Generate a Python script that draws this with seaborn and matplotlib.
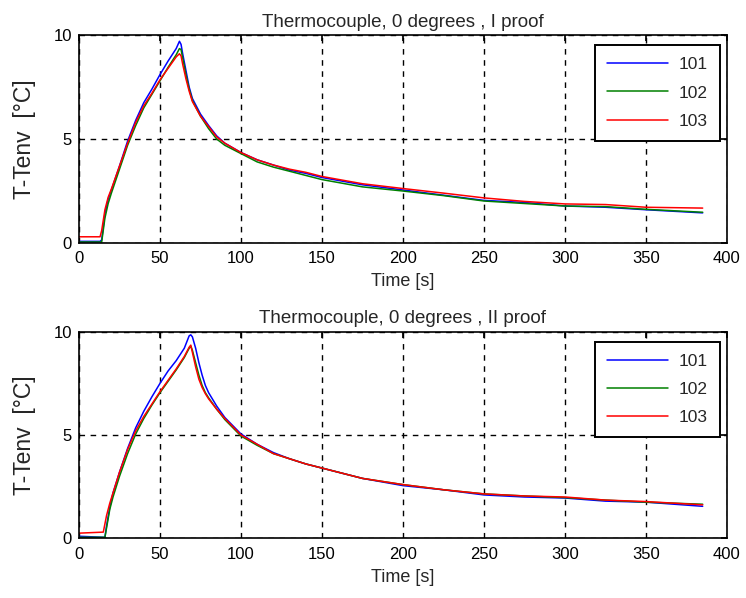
import numpy as np
import pandas as pd
import matplotlib
matplotlib.use("Agg")
import matplotlib.pyplot as plt
import seaborn as sns

# ---- data ----
labels = ["101", "102", "103"]
colors = ["#0000ff", "#008000", "#ff0000"]

t1 = [0, 13, 14, 16, 18, 20, 25, 30, 35, 40, 45, 50, 55, 60, 62, 63, 64, 66, 68, 70,
      75, 80, 85, 90, 100, 110, 120, 130, 140, 150, 175, 200, 225, 250, 275, 300, 325, 350, 385]
p1_101 = [0.08, 0.08, 0.15, 1.4, 2.1, 2.55, 3.7, 4.9, 5.9, 6.75, 7.4, 8.1, 8.75, 9.35, 9.7, 9.55, 9.1, 8.3, 7.5, 6.95,
          6.2, 5.65, 5.15, 4.8, 4.35, 4.0, 3.75, 3.5, 3.35, 3.15, 2.8, 2.55, 2.3, 2.05, 1.95, 1.78, 1.72, 1.6, 1.45]
p1_102 = [0.05, 0.05, 0.05, 1.2, 1.9, 2.4, 3.55, 4.7, 5.65, 6.5, 7.15, 7.8, 8.45, 9.05, 9.35, 9.3, 8.9, 8.1, 7.4, 6.85,
          6.1, 5.5, 5.0, 4.7, 4.3, 3.9, 3.65, 3.45, 3.25, 3.05, 2.7, 2.5, 2.28, 2.02, 1.9, 1.78, 1.75, 1.62, 1.48]
p1_103 = [0.3, 0.3, 0.6, 1.6, 2.2, 2.6, 3.7, 4.8, 5.8, 6.6, 7.2, 7.85, 8.4, 8.95, 9.1, 9.0, 8.6, 7.9, 7.3, 6.8,
          6.1, 5.6, 5.1, 4.8, 4.35, 4.0, 3.75, 3.55, 3.4, 3.2, 2.85, 2.62, 2.4, 2.17, 2.0, 1.88, 1.85, 1.72, 1.68]

t2 = [0, 15, 16, 17, 19, 21, 25, 30, 35, 40, 45, 50, 55, 60, 65, 68, 69, 70, 72, 74, 76, 78, 80,
      85, 90, 95, 100, 110, 120, 130, 140, 150, 175, 200, 225, 250, 275, 300, 325, 350, 385]
p2_101 = [0.1, 0.05, 0.05, 0.6, 1.5, 2.2, 3.2, 4.35, 5.35, 6.15, 6.85, 7.5, 8.1, 8.6, 9.2, 9.8, 9.85, 9.75, 9.2, 8.5, 7.9, 7.4, 7.05,
          6.4, 5.85, 5.45, 5.05, 4.55, 4.15, 3.85, 3.6, 3.4, 2.9, 2.55, 2.35, 2.1, 2.0, 1.95, 1.8, 1.75, 1.55]
p2_102 = [0.05, 0.05, 0.05, 0.5, 1.4, 2.0, 3.0, 4.1, 5.05, 5.8, 6.45, 7.05, 7.6, 8.15, 8.75, 9.2, 9.3, 9.1, 8.5, 7.9, 7.4, 7.05, 6.8,
          6.25, 5.75, 5.35, 4.95, 4.5, 4.1, 3.85, 3.6, 3.4, 2.9, 2.6, 2.35, 2.15, 2.05, 1.97, 1.85, 1.75, 1.65]
p2_103 = [0.25, 0.3, 0.7, 1.1, 1.7, 2.2, 3.2, 4.3, 5.2, 5.9, 6.5, 7.1, 7.65, 8.2, 8.8, 9.25, 9.35, 9.0, 8.3, 7.7, 7.3, 7.0, 6.75,
          6.25, 5.8, 5.4, 5.0, 4.55, 4.1, 3.85, 3.6, 3.4, 2.9, 2.6, 2.35, 2.15, 2.05, 2.0, 1.85, 1.78, 1.62]

titles = ["Thermocouple, 0 degrees , I proof", "Thermocouple, 0 degrees , II proof"]
xticks = [0, 50, 100, 150, 200, 250, 300, 350, 400]
yticks = [0, 5, 10]

# ---- style ----
sns.set_theme(style="white")
plt.rcParams['font.family'] = ['Liberation Sans', 'DejaVu Sans']

fig = plt.figure(figsize=(7.46, 5.98), dpi=100)
ax1 = fig.add_axes([0.1059, 0.5936, 0.8686, 0.3478])
ax2 = fig.add_axes([0.1059, 0.0998, 0.8686, 0.3455])

def make_df(t, series):
    frames = []
    for lab, vals in zip(labels, series):
        frames.append(pd.DataFrame({"t": t, "v": vals, "s": lab}))
    return pd.concat(frames, ignore_index=True)

panels = [(ax1, make_df(t1, [p1_101, p1_102, p1_103]), titles[0]),
          (ax2, make_df(t2, [p2_101, p2_102, p2_103]), titles[1])]

for ax, df, title in panels:
    sns.lineplot(data=df, x="t", y="v", hue="s", palette=colors, hue_order=labels,
                 estimator=None, sort=False, lw=1.1, ax=ax)
    ax.set_xlim(0, 400)
    ax.set_ylim(0, 10)
    ax.set_xticks(xticks)
    ax.set_yticks(yticks)
    ax.grid(True, color="black", linestyle=(0, (4, 4)), linewidth=1.0)
    for sp in ax.spines.values():
        sp.set_color("black")
        sp.set_linewidth(1.2)
        sp.set_visible(True)
    ax.tick_params(axis="both", labelsize=12, direction="in", length=4, colors="black",
                   top=True, right=True)
    ax.tick_params(axis="x", pad=6)
    ax.tick_params(axis="y", pad=5)
    ax.set_xlabel("Time [s]", fontsize=13, labelpad=5)
    ax.set_ylabel("T-Tenv  [°C]", fontsize=16.5, labelpad=13)
    ax.set_title(title, fontsize=13.5, pad=6)
    leg = ax.legend(loc="upper right", fontsize=12.5, frameon=True, fancybox=False,
                    edgecolor="black", framealpha=1, handlelength=3.5, handletextpad=0.6,
                    borderpad=0.7, labelspacing=0.75, borderaxespad=0,
                    bbox_to_anchor=(0.989, 0.952))
    leg.get_frame().set_linewidth(1.4)

fig.savefig("out.png", dpi=100)
